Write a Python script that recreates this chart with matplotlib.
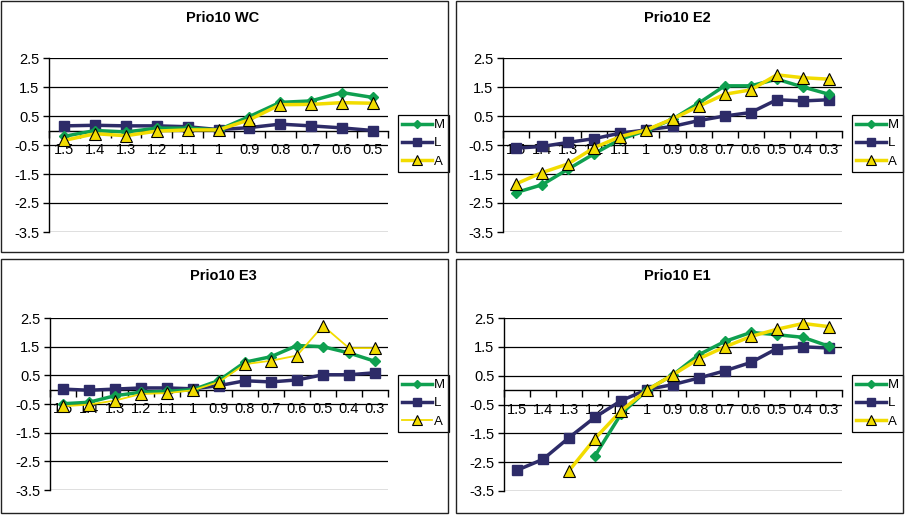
import numpy as np
import matplotlib.pyplot as plt
from matplotlib.patches import Rectangle

plt.rcParams['font.family'] = ['Liberation Sans', 'DejaVu Sans']
plt.rcParams['axes.unicode_minus'] = False

W, H = 906, 517  # figure size in pixels

cats_wc = ['1.5', '1.4', '1.3', '1.2', '1.1', '1', '0.9', '0.8', '0.7', '0.6', '0.5']
cats_e = ['1.5', '1.4', '1.3', '1.2', '1.1', '1', '0.9', '0.8', '0.7', '0.6', '0.5', '0.4', '0.3']

wc_m = [-0.2, 0.0, -0.05, 0.08, 0.08, 0.02, 0.48, 0.97, 1.02, 1.31, 1.14]
wc_l = [0.16, 0.18, 0.16, 0.16, 0.13, 0.03, 0.1, 0.22, 0.16, 0.09, 0.0]
wc_a = [-0.34, -0.11, -0.18, -0.02, 0.02, 0.02, 0.37, 0.89, 0.9, 0.96, 0.94]

e2_m = [-2.14, -1.87, -1.33, -0.8, -0.3, 0.0, 0.39, 0.94, 1.54, 1.54, 1.77, 1.5, 1.25]
e2_l = [-0.61, -0.55, -0.41, -0.28, -0.09, 0.02, 0.14, 0.34, 0.5, 0.62, 1.06, 1.02, 1.06]
e2_a = [-1.84, -1.45, -1.15, -0.59, -0.21, 0.02, 0.4, 0.83, 1.25, 1.4, 1.92, 1.82, 1.77]

e3_m = [-0.49, -0.44, -0.21, -0.09, -0.06, 0.0, 0.32, 0.96, 1.15, 1.54, 1.5, 1.28, 0.99]
e3_l = [0.02, -0.02, 0.02, 0.06, 0.06, 0.03, 0.14, 0.31, 0.27, 0.34, 0.52, 0.52, 0.59]
e3_a = [-0.58, -0.52, -0.38, -0.15, -0.12, -0.02, 0.27, 0.89, 1.01, 1.19, 2.23, 1.45, 1.45]

e1_m = [None, None, None, -2.28, -0.83, 0.0, 0.53, 1.23, 1.69, 2.0, 1.92, 1.83, 1.52]
e1_l = [-2.78, -2.4, -1.65, -0.94, -0.37, 0.02, 0.19, 0.42, 0.67, 0.96, 1.44, 1.5, 1.46]
e1_a = [None, None, -2.8, -1.68, -0.72, 0.0, 0.53, 1.09, 1.5, 1.86, 2.11, 2.31, 2.2]

yticks = [2.5, 1.5, 0.5, -0.5, -1.5, -2.5, -3.5]

GREEN = '#0fa050'
NAVY = '#2d2b68'
YELLOW = '#f2dc00'

# title, categories, series, plot box (px: left, top, right, bottom), panel box, A line width
panels = [
    ('Prio10 WC', cats_wc, (wc_m, wc_l, wc_a), (49, 58, 388, 232), (1, 1, 448, 252), 2.5),
    ('Prio10 E2', cats_e, (e2_m, e2_l, e2_a), (503, 58, 842, 232), (456, 1, 903, 252), 2.5),
    ('Prio10 E3', cats_e, (e3_m, e3_l, e3_a), (50, 318, 388, 490), (1, 259, 448, 513), 1.3),
    ('Prio10 E1', cats_e, (e1_m, e1_l, e1_a), (504, 318, 842, 491), (456, 259, 903, 513), 2.5),
]

fig = plt.figure(figsize=(W / 100, H / 100), dpi=100)

for title, cats, (m, l, a), (x0, y0, x1, y1), (bx0, by0, bx1, by1), alw in panels:
    # outer frame of each chart
    fig.add_artist(Rectangle((bx0 / W, 1 - by1 / H), (bx1 - bx0) / W, (by1 - by0) / H,
                             transform=fig.transFigure, fill=False, edgecolor='#222222', lw=1.0))
    fig.text((x0 + x1) / 2 / W + 0.005, 1 - (by0 + 17) / H, title, ha='center', va='center',
             fontsize=10.5, fontweight='bold')

    ax = fig.add_axes([x0 / W, 1 - y1 / H, (x1 - x0) / W, (y1 - y0) / H])
    n = len(cats)
    xs = np.arange(n)
    to_arr = lambda v: np.array([np.nan if t is None else t for t in v], dtype=float)

    ax.plot(xs, to_arr(m), color=GREEN, lw=2.5, marker='D', ms=5, mec=GREEN, label='M', zorder=4)
    ax.plot(xs, to_arr(l), color=NAVY, lw=2.5, marker='s', ms=7, mec=NAVY, label='L', zorder=3)
    ax.plot(xs, to_arr(a), color=YELLOW, lw=alw, marker='^', ms=9, mfc=YELLOW, mec='black',
            mew=0.8, label='A', zorder=5)

    ax.set_xlim(-0.5, n - 0.5)
    ax.set_ylim(-3.5, 2.5)

    ax.set_yticks(yticks)
    ax.set_yticklabels([f'{t:g}' for t in yticks])
    ax.yaxis.grid(True, color='black', lw=0.9)
    ax.set_axisbelow(True)
    ax.tick_params(axis='y', direction='out', length=4, width=1, pad=3, labelsize=10.5)

    # category axis crosses at zero: ticks between categories, labels under the line
    ax.spines['bottom'].set_position(('data', 0))
    ax.set_xticks(np.arange(n + 1) - 0.5)
    ax.set_xticklabels([''] * (n + 1))
    ax.set_xticks(xs, minor=True)
    ax.set_xticklabels(cats, minor=True)
    ax.tick_params(axis='x', which='major', direction='out', length=5, width=1)
    ax.tick_params(axis='x', which='minor', length=0, pad=9, labelsize=10.5)

    for s in ('top', 'right'):
        ax.spines[s].set_visible(False)
    ax.spines['left'].set_linewidth(1)
    ax.spines['bottom'].set_linewidth(1)
    ax.patch.set_alpha(0)

    lx = (x1 + 10) / W
    ly = 1 - (y0 + 57) / H
    leg = ax.legend(loc='upper left', bbox_to_anchor=(lx, ly), bbox_transform=fig.transFigure,
                    fancybox=False, edgecolor='black', framealpha=1, fontsize=9.5,
                    handlelength=2.3, handletextpad=0.1, borderpad=0.3, labelspacing=0.45,
                    markerscale=0.75, borderaxespad=0)
    leg.get_frame().set_linewidth(0.9)

fig.savefig('out.png', dpi=100)
